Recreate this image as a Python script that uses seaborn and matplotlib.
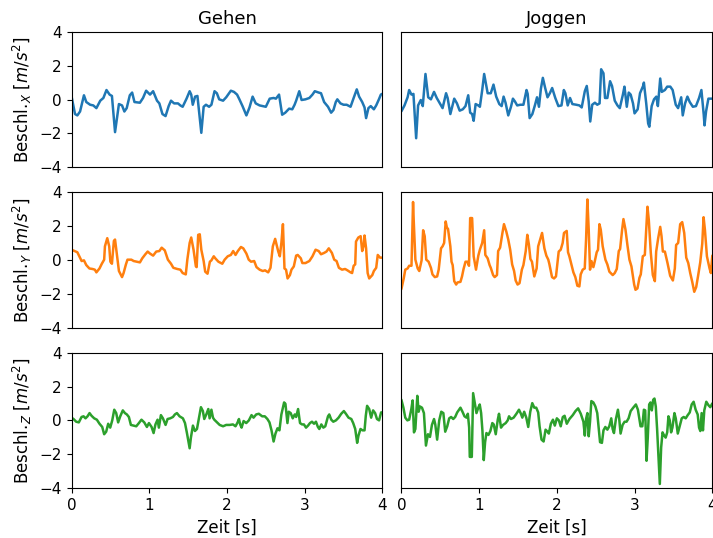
import matplotlib
matplotlib.use("Agg")
import matplotlib.pyplot as plt
import seaborn as sns

# ---------------- data ----------------
cols = ["Gehen", "Joggen"]
xlabel = "Zeit [s]"
ylabels = [r"Beschl.$_X$ [$m/s^2$]", r"Beschl.$_Y$ [$m/s^2$]", r"Beschl.$_Z$ [$m/s^2$]"]
yticks = [-4, -2, 0, 2, 4]
xticks = [0, 1, 2, 3, 4]

walk_x_t = [0, 0.045, 0.075, 0.11, 0.16, 0.19, 0.24, 0.28, 0.32, 0.37, 0.41, 0.45, 0.49, 0.52, 0.56, 0.61, 0.65, 0.68, 0.71, 0.75,
            0.78, 0.81, 0.88, 0.92, 0.96, 1.01, 1.05, 1.10, 1.13, 1.17, 1.21, 1.25, 1.28, 1.32, 1.37, 1.40, 1.43, 1.48, 1.52, 1.54,
            1.56, 1.59, 1.62, 1.67, 1.70, 1.73, 1.77, 1.80, 1.84, 1.87,
            1.90, 1.95, 1.99, 2.05, 2.09, 2.13, 2.16, 2.20, 2.25, 2.29, 2.33, 2.37, 2.42, 2.46, 2.50, 2.55, 2.60, 2.63, 2.67, 2.71,
            2.75, 2.80, 2.84, 2.87, 2.89, 2.93, 2.96, 3.01, 3.06, 3.10, 3.13, 3.18, 3.21, 3.25, 3.30, 3.34, 3.37, 3.40, 3.42, 3.46,
            3.50, 3.54, 3.59, 3.63, 3.67, 3.70, 3.74, 3.77, 3.79, 3.82, 3.85, 3.89, 3.92, 3.955, 3.98, 4.0]
walk_x_v = [0.2, -0.85, -0.93, -0.7, 0.26, -0.14, -0.3, -0.34, -0.5, -0.06, 0.1, 0.57, 0.3, 0.22, -1.92, -0.26, -0.34, -0.7, -0.5, 0.26,
            0.42, -0.14, -0.18, 0.1, 0.53, 0.3, 0.5, -0.06, -0.22, -0.85, -0.97, -0.38, -0.06, -0.22, -0.22, -0.34, -0.42, 0.06, 0.5, 0.3,
            -0.3, 0.18, 0.22, -1.96, -0.42, -0.3, -0.42, -0.3, 0.5, 0.38,
            0.02, -0.06, 0.14, 0.53, 0.46, 0.3, 0.02, -0.38, -0.93, -0.46, 0.18, -0.22, -0.34, -0.38, -0.42, 0.06, 0.1, 0.06, 0.3, -0.89,
            -0.77, -0.53, -0.57, -0.3, -0.06, 0.5, -0.02, 0.02, 0.1, 0.3, 0.5, 0.42, 0.38, -0.14, -0.42, -0.77, -0.61, -0.14, 0.02, -0.22,
            -0.3, -0.3, -0.42, 0.1, 0.61, 0.18, -0.14, -0.46, -1.09, -0.5, -0.38, -0.57, -0.34, 0.02, 0.3, 0.35]

jog_x_t = [0.0, 0.04, 0.08, 0.10, 0.13, 0.155, 0.19, 0.215, 0.25, 0.275, 0.31, 0.345, 0.38, 0.42, 0.455, 0.49, 0.53, 0.575, 0.595, 0.63,
           0.68, 0.715, 0.75, 0.79, 0.825, 0.86, 0.885, 0.91, 0.93, 0.955, 0.99, 1.01, 1.04, 1.065, 1.11, 1.15, 1.185, 1.22, 1.26, 1.29,
           1.315, 1.34, 1.375, 1.41, 1.435, 1.46, 1.49, 1.53, 1.57, 1.61, 1.625, 1.65, 1.685, 1.72, 1.745, 1.77, 1.795, 1.82, 1.85, 1.88,
           1.91,
           1.94, 1.98, 2.02, 2.06, 2.09, 2.11, 2.14, 2.17, 2.20, 2.25, 2.29, 2.32, 2.36, 2.385, 2.41, 2.43, 2.455, 2.49, 2.52, 2.55,
           2.57, 2.60, 2.62, 2.65, 2.685, 2.71, 2.745, 2.78, 2.81, 2.85, 2.87, 2.90, 2.925, 2.95, 2.98, 3.00, 3.04, 3.07, 3.11, 3.12,
           3.15, 3.175, 3.19, 3.22, 3.25, 3.28, 3.30, 3.33, 3.35, 3.39, 3.42, 3.46, 3.49, 3.53, 3.56, 3.60, 3.62, 3.65, 3.68, 3.71,
           3.75, 3.79, 3.83, 3.86, 3.89, 3.90, 3.92, 3.95, 3.98, 4.0]
jog_x_v = [-0.69, -0.34, 0.14, 0.57, 0.3, 0.34, -2.28, -0.34, -0.02, -0.38, 1.52, 0.14, 0.02, 0.46, 0.1, -0.18, -0.5, 0.38, 0.1, -0.85,
           0.06, -0.22, -0.65, -0.57, -0.38, 0.26, -0.77, -0.85, -1.25, -0.26, -0.34, -0.42, 0.57, 1.52, 0.38, 0.38, 0.89, 0.18, -0.26, -0.38,
           0.18, -0.18, -0.93, -0.42, 0.06, -0.1, -0.34, -0.3, -0.3, 0.57, 0.34, -1.09, -0.85, -0.3, 0.14, -0.42, 0.65, 1.29, 0.69, 0.14,
           0.38,
           0.69, 0.1, -0.38, -0.34, 0.57, 0.38, -0.34, 0.1, -0.26, -0.3, -0.34, -0.46, 0.5, 0.81, -0.1, -1.29, -0.3, -0.18, -0.3, -0.22,
           1.8, 1.56, 0.1, 0.1, 1.09, 0.81, -0.06, -0.34, -0.5, 0.3, 0.77, -0.42, 0.42, 0.3, -0.22, -0.81, -0.57, 0.38, 0.81, 1.01,
           -0.22, -1.41, -1.6, -0.38, 0.02, 0.18, -0.38, 1.25, 0.46, 0.57, 0.77, 0.77, 0.57, -0.3, -0.5, 0.14, -0.93, -0.22, 0.18, -0.14,
           -0.42, -0.38, 0.1, 0.57, -0.89, -1.52, -0.69, 0.06, 0.06, 0.06]

walk_y_t = [0.0, 0.04, 0.075, 0.10, 0.13, 0.16, 0.19, 0.23, 0.27, 0.30, 0.32, 0.36, 0.39, 0.42, 0.43, 0.46, 0.485, 0.50, 0.52, 0.545,
            0.56, 0.59, 0.61, 0.65, 0.67, 0.70, 0.72, 0.77, 0.80, 0.84, 0.88, 0.91, 0.95, 0.98, 1.01, 1.05, 1.09, 1.13, 1.16, 1.20,
            1.24, 1.28, 1.31, 1.36, 1.40, 1.43, 1.47, 1.49, 1.52, 1.54, 1.57, 1.60, 1.61, 1.63, 1.65, 1.67, 1.70, 1.72, 1.75, 1.78,
            1.80, 1.83, 1.85, 1.89,
            1.94, 1.97, 2.01, 2.05, 2.08, 2.11, 2.14, 2.18, 2.21, 2.25, 2.28, 2.31, 2.35, 2.38, 2.42, 2.46, 2.49, 2.53, 2.56, 2.59,
            2.62, 2.66, 2.68, 2.70, 2.72, 2.73, 2.74, 2.76, 2.78, 2.81, 2.83, 2.86, 2.89, 2.91, 2.95, 2.97, 3.01, 3.06, 3.10, 3.14,
            3.18, 3.21, 3.25, 3.28, 3.31, 3.35, 3.38, 3.41, 3.44, 3.48, 3.52, 3.55, 3.59, 3.61, 3.63, 3.65, 3.66, 3.69, 3.72, 3.74,
            3.76, 3.77, 3.79, 3.81, 3.83, 3.87, 3.89, 3.92, 3.94, 3.97, 4.0]
walk_y_v = [0.61, 0.53, 0.46, 0.22, -0.06, -0.02, -0.3, -0.5, -0.53, -0.57, -0.73, -0.5, -0.22, 0.02, 0.81, 1.29, 0.81, -0.1, -0.22, 1.13,
            1.21, 0.1, -0.65, -1.01, -0.77, -0.26, 0.02, 0.02, -0.06, -0.1, -0.14, 0.1, 0.34, 0.5, 0.38, 0.26, 0.5, 0.53, 0.73, 0.57,
            0.02, -0.22, -0.46, -0.53, -0.57, -0.77, -0.85, 0.02, 1.01, 1.33, 0.61, -0.38, -0.42, 1.49, 1.52, 0.61, -0.06, -0.69, -0.81, -0.1,
            -0.02, 0.22, 0.1, -0.1,
            -0.22, 0.02, 0.22, 0.3, 0.53, 0.3, 0.53, 0.77, 0.69, 0.38, 0.02, -0.1, -0.06, -0.42, -0.57, -0.65, -0.61, -0.73, -0.46, 0.81,
            1.25, 0.5, 0.22, 1.01, 2.12, 0.81, -0.5, -0.57, -1.09, -0.89, -0.57, -0.38, 0.26, 0.3, 0.1, -0.18, -0.18, -0.06, 0.22, 0.61,
            0.53, 0.34, 0.42, 0.5, 0.69, 0.42, 0.02, -0.06, -0.46, -0.57, -0.53, -0.61, -0.73, -0.77, -0.34, -0.26, 1.09, 1.33, 1.41, 0.53,
            0.89, 1.45, 0.69, -0.77, -1.09, -0.89, -0.65, -0.46, 0.3, 0.14, 0.14]

jog_y_t = [0.0, 0.03, 0.05, 0.08, 0.10, 0.13, 0.15, 0.16, 0.18, 0.21, 0.23, 0.26, 0.28, 0.30, 0.32, 0.35, 0.38, 0.40, 0.43, 0.46,
           0.48, 0.51, 0.53, 0.55, 0.57, 0.585, 0.60, 0.63, 0.645, 0.66, 0.68, 0.705, 0.72, 0.76, 0.78, 0.80, 0.825, 0.85, 0.87, 0.885,
           0.91, 0.93, 0.96, 0.99, 1.01, 1.04, 1.065, 1.08, 1.11, 1.135, 1.15, 1.18, 1.20, 1.23, 1.245, 1.27, 1.30, 1.32, 1.35, 1.375,
           1.40, 1.425, 1.45, 1.47, 1.495, 1.52, 1.55, 1.57, 1.60, 1.62, 1.64, 1.66, 1.68, 1.71, 1.74, 1.76, 1.79, 1.81, 1.84, 1.865,
           1.89,
           1.903, 1.938, 1.964, 1.989, 2.024, 2.05, 2.075, 2.092, 2.127, 2.144, 2.161, 2.187, 2.213, 2.238, 2.264, 2.29, 2.307, 2.333, 2.359, 2.376,
           2.393, 2.41, 2.427, 2.445, 2.47, 2.487, 2.513, 2.53, 2.548, 2.565, 2.59, 2.625, 2.65, 2.676, 2.719, 2.745, 2.771, 2.797, 2.814, 2.84,
           2.857, 2.883, 2.909, 2.934, 2.96, 2.995, 3.012, 3.037, 3.063, 3.08, 3.106, 3.132, 3.166, 3.183, 3.209, 3.235, 3.261, 3.278, 3.304, 3.33,
           3.347, 3.364, 3.39, 3.424, 3.458, 3.493, 3.518, 3.535, 3.561, 3.587, 3.613, 3.639, 3.665, 3.691, 3.716, 3.742, 3.768, 3.793, 3.819, 3.845,
           3.871, 3.888, 3.905, 3.931, 3.965, 3.982, 4.0]
jog_y_v = [-1.72, -1.09, -0.57, -0.5, -0.34, -0.34, 3.43, 2.2, 0.02, -0.5, -0.65, -0.02, 1.76, 1.41, 0.02, -0.1, -0.46, -0.85, -1.01, -0.97,
           -0.57, 0.69, 0.81, 1.01, 2.28, 1.92, 1.84, 0.81, -0.1, -0.3, -1.25, -1.45, -1.33, -1.29, -0.97, -0.53, -0.1, -0.1, -0.34, 2.48,
           2.48, 0.22, -0.57, 0.26, 0.61, 1.01, 1.76, 0.3, 0.1, -0.3, -0.46, -0.89, -1.01, -0.89, 0.53, 0.73, 1.6, 2.12, 1.68, 1.21,
           0.61, -0.26, -0.65, -1.21, -1.45, -1.37, -0.57, -0.3, 0.53, 1.49, 0.93, 0.06, -0.1, -0.97, -0.5, 0.81, 1.29, 1.6, 0.69, 0.26,
           0.02,
           -0.22, -1.01, -1.09, -0.97, 0.5, 0.61, 1.01, 1.6, 1.72, 0.46, 0.22, -0.26, -0.73, -1.01, -1.52, -1.56, -0.85, -0.57, -0.5, 1.21,
           3.58, 1.8, -0.57, -0.06, -0.42, -0.1, 0.46, 0.61, 2.12, 1.8, 0.81, 0.02, -0.26, -0.69, -0.89, -0.77, -0.53, 0.53, 0.65, 1.8,
           2.42, 1.8, 0.85, 0.02, -0.38, -1.45, -1.76, -1.68, -1.05, -0.85, 0.22, 0.3, 3.15, 2.38, 0.42, -0.89, -1.25, 0.5, 1.29, 1.96,
           1.41, 0.5, 0.5, -0.18, -0.93, -1.21, -0.5, 0.89, 1.01, 2.12, 2.24, 1.6, 0.14, -0.18, -0.77, -1.29, -1.88, -1.6, -0.89, -0.14,
           0.97, 2.53, 1.8, 0.22, -0.5, -0.77, 0.26]

walk_z_t = [0, 0.026, 0.06, 0.094, 0.129, 0.155, 0.18, 0.206, 0.232, 0.258, 0.292, 0.326, 0.36, 0.395, 0.42, 0.446, 0.472, 0.498, 0.524, 0.55,
            0.575, 0.60, 0.627, 0.66, 0.687, 0.712, 0.738, 0.764, 0.798, 0.833, 0.867, 0.90, 0.936, 0.97, 0.996, 1.03, 1.056, 1.08, 1.107, 1.124,
            1.15, 1.176, 1.21, 1.236, 1.27, 1.305, 1.33, 1.356, 1.39, 1.433, 1.46, 1.485, 1.52, 1.536, 1.562, 1.588, 1.614, 1.64, 1.665, 1.69,
            1.708, 1.734, 1.76, 1.777, 1.80, 1.82, 1.837, 1.863,
            1.906, 1.95, 1.99, 2.034, 2.077, 2.11, 2.137, 2.154, 2.17, 2.188, 2.214, 2.248, 2.282, 2.316, 2.342, 2.376, 2.41, 2.453, 2.487, 2.52,
            2.547, 2.573, 2.6, 2.624, 2.65, 2.675, 2.70, 2.735, 2.752, 2.778, 2.795, 2.82, 2.846, 2.872, 2.89, 2.915, 2.94, 2.966, 2.99, 3.017,
            3.043, 3.068, 3.094, 3.12, 3.145, 3.17, 3.188, 3.214, 3.24, 3.265, 3.3, 3.316, 3.342, 3.368, 3.402, 3.436, 3.47, 3.504, 3.53, 3.564,
            3.6, 3.624, 3.65, 3.675, 3.692, 3.718, 3.744, 3.77, 3.786, 3.803, 3.83, 3.855, 3.88, 3.906, 3.93, 3.957, 3.983, 4.0]
walk_z_v = [0.16, 0.08, -0.08, -0.12, 0.2, 0.24, 0.12, 0.24, 0.43, 0.27, 0.12, 0.04, -0.2, -0.39, -0.82, -0.67, -0.2, -0.43, 0.0, 0.63,
            0.43, -0.12, 0.24, 0.59, 0.43, 0.35, 0.2, -0.27, -0.31, -0.35, -0.16, 0.04, -0.12, -0.39, -0.16, -0.39, -0.75, -0.24, 0.04, -0.43,
            0.31, 0.12, -0.27, 0.08, 0.12, 0.2, 0.35, 0.43, 0.24, 0.12, -0.16, -0.75, -1.65, -1.02, -0.31, -0.63, -0.51, 0.16, 0.78, 0.55,
            0.08, 0.35, 0.67, 0.12, 0.63, 0.16, 0.04, -0.08,
            -0.27, -0.35, -0.27, -0.27, -0.24, -0.35, -0.12, 0.08, -0.24, -0.43, -0.04, -0.16, 0.0, 0.31, 0.16, 0.35, 0.39, 0.24, 0.24, 0.08,
            -0.12, -0.59, -1.25, -0.78, -0.47, -0.59, 0.35, 1.06, 0.98, -0.16, 0.51, 0.43, 0.12, 0.35, 0.2, 0.67, -0.16, -0.24, -0.24, -0.43,
            -0.31, -0.16, -0.08, -0.2, -0.08, -0.39, -0.51, -0.24, -0.43, -0.35, 0.24, 0.35, 0.04, -0.08, 0.0, 0.16, 0.39, 0.55, 0.39, 0.16,
            0.08, -0.16, -0.51, -1.33, -0.9, -0.51, -0.59, -0.59, 0.27, 0.86, 0.67, 0.16, 0.59, 0.43, 0.08, 0.0, 0.47, 0.47]

jog_z_t = [0, 0.026, 0.05, 0.077, 0.10, 0.128, 0.145, 0.162, 0.18, 0.205, 0.222, 0.24, 0.265, 0.29, 0.316, 0.342, 0.368, 0.393, 0.42, 0.436,
           0.46, 0.487, 0.513, 0.54, 0.564, 0.59, 0.615, 0.64, 0.667, 0.692, 0.718, 0.76, 0.786, 0.812, 0.838, 0.855, 0.872, 0.88, 0.906, 0.923,
           0.94, 0.966, 0.99, 1.008, 1.026, 1.043, 1.06, 1.077, 1.094, 1.12, 1.145, 1.17, 1.188, 1.214, 1.24, 1.256, 1.282, 1.308, 1.342, 1.368,
           1.385, 1.41, 1.444, 1.48, 1.513, 1.538, 1.556, 1.58, 1.607, 1.632, 1.658, 1.684, 1.71, 1.735, 1.76, 1.778, 1.803, 1.83, 1.855, 1.88,
           1.897, 1.923, 1.95, 1.974, 2.0, 2.026, 2.05, 2.077, 2.1, 2.128, 2.162, 2.205, 2.24, 2.274, 2.308, 2.342, 2.36, 2.376, 2.393, 2.41,
           2.427, 2.444, 2.47, 2.496, 2.52, 2.538, 2.556, 2.58, 2.6, 2.624, 2.65, 2.675, 2.7, 2.718, 2.735, 2.76, 2.786, 2.803, 2.82, 2.846,
           2.872, 2.897, 2.923, 2.95, 2.983, 3.017, 3.043, 3.06, 3.077, 3.1, 3.12, 3.137, 3.154, 3.17, 3.188, 3.205, 3.222, 3.24, 3.256, 3.273,
           3.29, 3.308, 3.325, 3.342, 3.36, 3.376, 3.4, 3.42, 3.436, 3.453, 3.47, 3.487, 3.513, 3.53, 3.556, 3.58, 3.607, 3.632, 3.658, 3.684,
           3.71, 3.735, 3.76, 3.786, 3.812, 3.83, 3.846, 3.863, 3.88, 3.897, 3.923, 3.95, 3.974, 4.0]
jog_z_v = [1.22, 0.75, 0.16, 0.0, 0.04, 0.67, 1.18, -0.71, -0.51, 1.45, 0.51, 0.82, 0.75, 0.43, -1.49, -0.82, -0.98, -0.27, 0.08, -0.24,
           -1.14, 0.0, 0.51, 0.43, -0.67, -0.35, 0.12, 0.2, 0.08, 0.2, 0.47, 0.75, 0.51, 0.24, 0.16, 0.39, -0.43, -2.16, -2.16, 1.61,
           1.14, 0.43, 0.75, 0.94, 0.43, -0.63, -2.35, -1.29, -0.75, -0.86, -0.63, -0.16, -0.24, -0.82, 0.04, 0.39, -0.43, -0.27, -0.16, 0.0,
           0.24, 0.08, 0.16, 0.39, 0.63, 0.39, 0.16, 0.51, 0.16, -0.39, 0.51, 1.02, 0.75, 0.75, 0.47, -0.35, -1.14, -1.25, -0.55, -0.67,
           -0.78, -0.2, 0.04, -0.31, 0.12, 0.0, -0.35, 0.2, 0.27, -0.2, 0.08, 0.31, 0.55, 0.71, 0.39, -0.08, -0.9, 0.08, 0.43, -0.94,
           -0.08, 1.14, 1.06, 0.82, 0.43, -0.43, -1.29, -1.33, -0.59, -0.39, -0.55, -0.35, 0.12, -0.51, -0.75, 0.08, 0.63, 0.08, -0.78, -0.27,
           -0.08, -0.08, 0.12, 0.55, 0.75, 0.94, 0.63, 0.16, -0.35, -0.35, 0.63, 0.59, -2.39, -1.02, 0.94, 1.06, 0.59, 1.22, 1.29, 0.82,
           -0.51, -2.2, -3.76, -1.61, -0.71, -0.86, -1.02, -0.71, 0.24, 0.0, -0.71, -0.43, 0.43, 0.12, -0.78, -0.35, 0.12, 0.2, 0.12, 0.31,
           0.47, 0.94, 1.1, 0.63, 0.35, -0.43, -0.63, 0.43, -0.59, 0.59, 1.1, 0.9, 0.78, 1.0]

series = [
    [(walk_x_t, walk_x_v), (jog_x_t, jog_x_v)],
    [(walk_y_t, walk_y_v), (jog_y_t, jog_y_v)],
    [(walk_z_t, walk_z_v), (jog_z_t, jog_z_v)],
]
row_colors = ["#1f77b4", "#ff7f0e", "#2ca02c"]

# ---------------- plot ----------------
sns.set_style("ticks")
plt.rcParams["font.family"] = ["DejaVu Sans"]
plt.rcParams["axes.edgecolor"] = "black"
plt.rcParams["xtick.color"] = "black"
plt.rcParams["ytick.color"] = "black"
plt.rcParams["text.color"] = "black"
plt.rcParams["axes.labelcolor"] = "black"

fig = plt.figure(figsize=(7.13, 5.38), dpi=100)
axes = fig.subplots(3, 2, sharex=True, sharey=True)
fig.subplots_adjust(left=0.1003, right=0.9990, top=0.9405, bottom=0.0929, wspace=0.061, hspace=0.185)

for r in range(3):
    for c in range(2):
        ax = axes[r][c]
        t, v = series[r][c]
        assert len(t) == len(v), (r, c, len(t), len(v))
        sns.lineplot(x=t, y=v, ax=ax, color=row_colors[r], linewidth=1.8,
                     estimator=None, sort=False)
        ax.set_xlim(0, 4)
        ax.set_ylim(-4, 4)
        ax.set_yticks(yticks)
        ax.set_xticks(xticks)
        for s in ax.spines.values():
            s.set_linewidth(0.8)
            s.set_visible(True)
        ax.tick_params(direction="out", length=3.5, width=0.8, labelsize=11)
        if r < 2:
            ax.tick_params(axis="x", bottom=False, labelbottom=False)
        if c == 1:
            ax.tick_params(axis="y", left=False, labelleft=False)
        if r == 0:
            ax.set_title(cols[c], fontsize=13)
        if r == 2:
            ax.set_xlabel(xlabel, fontsize=12)
        if c == 0:
            ax.set_ylabel(ylabels[r], fontsize=12)

fig.savefig("out.png", dpi=100)
